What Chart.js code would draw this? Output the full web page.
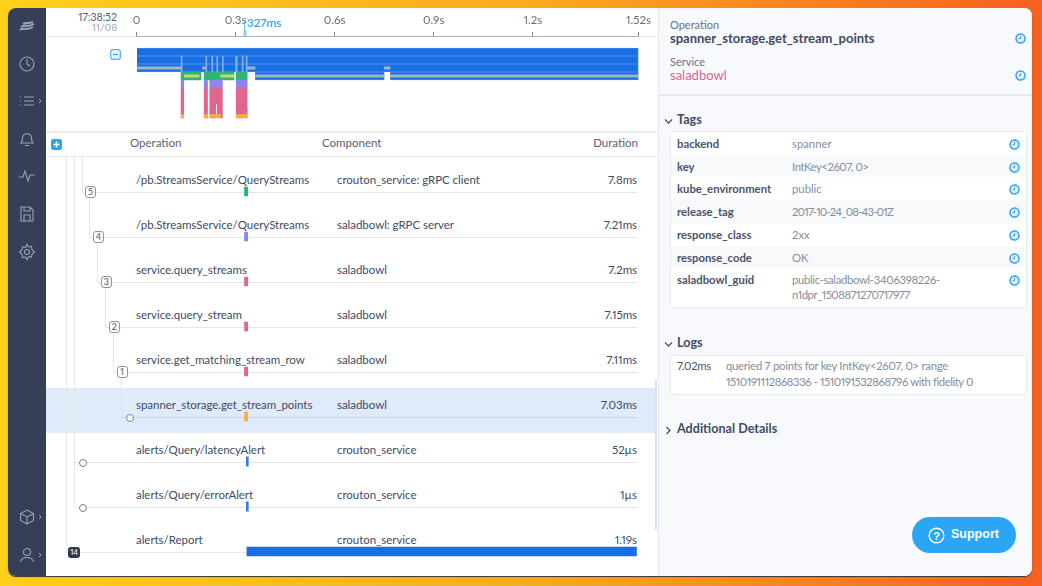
<!DOCTYPE html>
<html>
<head>
<meta charset="utf-8">
<script src="https://cdn.jsdelivr.net/npm/chart.js@4"></script>
<style>
* { box-sizing: border-box; }
html, body { margin: 0; width: 1042px; height: 586px; overflow: hidden; }
body { position: relative; font-family: Lato, sans-serif; color: #3f4a62; font-variant-numeric: proportional-nums;
       background: linear-gradient(90deg, #ffd01a 0%, #fbab1f 50%, #f7601f 100%); }
#card { position: absolute; left: 8px; top: 8px; width: 1024px; height: 568px; background: #fff;
        border-radius: 8px; overflow: hidden; box-shadow: 0 1px 1px #333; }
#side { position: absolute; left: 0; top: 0; width: 38px; height: 568px; background: #363f58; }
#side svg { position: absolute; fill: none; stroke: #9aa2b6; stroke-width: 1.1; }
.abs { position: absolute; white-space: nowrap; }
.hline { position: absolute; left: 46px; width: 611px; background: #e9ebef; }
canvas { position: absolute; display: block; }
#rows div { position: absolute; }
.rowtext { font-size: 11.5px; letter-spacing: -.04px; color: #414b63; line-height: 14px; white-space: nowrap; }
.badge { width: 11px; height: 12px; border: 1px solid #8d93a0; border-radius: 3px; background: #fff;
         font-size: 9px; line-height: 10px; text-align: center; color: #4a5266; }
.dot { width: 8px; height: 8px; border: 1px solid #77808f; border-radius: 50%; background: #fff; }
#right { position: absolute; left: 658px; top: 8px; width: 374px; height: 568px; background: #f8f9fc;
         border-left: 1px solid #e6e8ed; border-radius: 0 8px 8px 0; }
.lbl { font-size: 11px; color: #6a7284; }
.big { font-size: 13px; font-weight: 700; color: #3f4a62; }
.sec { font-size: 12.6px; font-weight: 700; color: #414b63; }
.clock { position: absolute; }
#tags { position: absolute; left: 12px; top: 124px; width: 355px; height: 175px; background: #fff;
        border-radius: 3px; box-shadow: 0 0 2px #c5c9d2; }
.tagrow { position: absolute; left: 0; width: 355px; font-size: 11.3px; }
.tagrow b { position: absolute; left: 6px; top: 5px; font-weight: 700; color: #4a5368; }
.tagrow span { position: absolute; left: 121px; top: 4px; color: #868d9c; line-height: 15px; white-space: nowrap; }
#logs { position: absolute; left: 12px; top: 348px; width: 355px; height: 38px; background: #fff;
        border-radius: 3px; box-shadow: 0 0 2px #c5c9d2; font-size: 11.3px; line-height: 15.5px; }
#support { position: absolute; left: 253px; top: 509px; width: 104px; height: 36px; border-radius: 18px;
           background: #2ba6f6; color: #fff; font-family: "Liberation Sans", sans-serif; font-weight: 700; font-size: 12.5px; }
</style>
</head>
<body>
<div id="card"></div>
<div id="side" style="left:8px;top:8px;border-radius:8px 0 0 8px"></div>

<div class="abs" style="right:925px;top:11px;font-size:10.5px;color:#555d6e">17:38:52</div>
<div class="abs" style="right:925px;top:21px;font-size:10px;color:#a2a7b2">11/08</div>
<div class="hline" style="top:36px;height:1px"></div>
<div class="hline" style="top:131px;height:2px"></div>
<div class="hline" style="top:156px;height:1px"></div>

<svg class="abs" style="left:110px;top:49px" width="11" height="11"><rect x=".7" y=".7" width="9.6" height="9.6" rx="2" fill="#e8f5fe" stroke="#4db3ef" stroke-width="1.2"/><path d="M3 5.5h5" stroke="#3aa6ea" stroke-width="1.2"/></svg>
<svg class="abs" style="left:51px;top:139px" width="11" height="11"><rect width="11" height="11" rx="2" fill="#2ba6f6"/><path d="M2.5 5.5h6M5.5 2.5v6" stroke="#fff" stroke-width="1.5"/></svg>

<div class="abs" style="left:130px;top:136px;font-size:11.5px;color:#596277">Operation</div>
<div class="abs" style="left:322px;top:136px;font-size:11.5px;color:#596277">Component</div>
<div class="abs" style="right:404px;top:136px;font-size:11.5px;color:#596277">Duration</div>

<div class="abs" style="left:46px;top:388px;width:611px;height:45px;background:#dfeafa"></div>
<div class="abs" style="left:655px;top:380px;width:2px;height:150px;background:#d5e3f5"></div>
<div id="rows"></div>

<canvas id="timeline" width="611" height="124" style="left:46px;top:8px"></canvas>
<canvas id="spans" width="611" height="405" style="left:46px;top:169px"></canvas>

<div id="right">
  <div class="abs lbl" style="left:11px;top:10px">Operation</div>
  <div class="abs big" style="left:11px;top:22px">spanner_storage.get_stream_points</div>
  <div class="abs lbl" style="left:11px;top:47px">Service</div>
  <div class="abs big" style="left:11px;top:59px;color:#e0668f;font-weight:400">saladbowl</div>
  <div class="abs" style="left:0;top:86px;width:373px;height:2px;background:#e8e9ee"></div>
  <div class="abs sec" style="left:18px;top:104px">Tags</div>
  <div id="tags"></div>
  <div class="abs sec" style="left:18px;top:327px">Logs</div>
  <div id="logs">
    <div class="abs" style="left:6px;top:2px;color:#4a5368;letter-spacing:-.3px">7.02ms</div>
    <div class="abs" style="left:55px;top:2px;color:#868d9c;letter-spacing:-.25px">queried 7 points for key IntKey&lt;2607, 0&gt; range<br><span style="letter-spacing:-.42px">1510191112868336 - 1510191532868796 with fidelity 0</span></div>
  </div>
  <div class="abs sec" style="left:18px;top:413px">Additional Details</div>
  <svg class="abs" style="left:5px;top:110px" width="9" height="7"><path d="M1 1.5l3.5 3.5 3.5-3.5" fill="none" stroke="#4a5368" stroke-width="1.3"/></svg>
  <svg class="abs" style="left:5px;top:333px" width="9" height="7"><path d="M1 1.500l3.500 3.500 3.500-3.500" fill="none" stroke="#4a5368" stroke-width="1.3"/></svg>
  <svg class="abs" style="left:6px;top:418px" width="7" height="10"><path d="M1.5 1l3.5 3.5-3.5 3.5" fill="none" stroke="#4a5368" stroke-width="1.3"/></svg>
  <div id="support">
    <svg class="abs" style="left:16px;top:10px" width="17" height="17"><circle cx="8.5" cy="8.5" r="7.3" fill="none" stroke="#fff" stroke-width="1.4"/><text x="8.5" y="12.5" font-size="11" font-weight="700" text-anchor="middle" fill="#fff">?</text></svg>
    <div class="abs" style="left:39px;top:10px">Support</div>
  </div>
</div>

<script>
// tiempos en segundos
const axisTicks = [0, 0.3, 0.6, 0.9, 1.2, 1.52];
const cursorTime = 0.327;
const cursorLabel = '327ms';

// minimapa: [carril, inicio, fin]
const miniBlue = [[0, 0, 1.52], [1, 0, 1.52], [2, 0, 1.52], [3, 0.359, 0.75], [3, 0.768, 1.52]];
const miniGrey = [[2, 0, 0.135], [2, 0.2, 0.21], [2, 0.335, 0.359], [2, 0.75, 0.768], [3, 0.359, 0.75], [3, 0.768, 1.52]];
const miniHair = [[1, 0.135, 0.138], [2, 0.135, 0.138], [1, 0.21, 0.213], [2, 0.21, 0.213], [1, 0.228, 0.231], [2, 0.228, 0.231],
                  [1, 0.243, 0.246], [2, 0.243, 0.246], [1, 0.26, 0.263], [2, 0.26, 0.263], [1, 0.3, 0.305], [2, 0.3, 0.305],
                  [1, 0.32, 0.323], [2, 0.32, 0.323], [1, 0.332, 0.335], [2, 0.332, 0.335]];
const miniGreen = [[3, 0.135, 0.195], [3, 0.205, 0.295], [3, 0.302, 0.335]];
const miniLime = [[3, 0.145, 0.19], [3, 0.255, 0.295]];
const miniPurple = [[4, 0.135, 0.143], [4, 0.205, 0.215], [4, 0.222, 0.26], [4, 0.302, 0.335]];
const miniPink = [[5, 0.135, 0.143], [6, 0.135, 0.143], [7, 0.135, 0.143], [7.75, 0.135, 0.143],
                  [5, 0.205, 0.215], [6, 0.205, 0.215], [7, 0.205, 0.215], [7.75, 0.205, 0.215],
                  [5, 0.222, 0.26], [6, 0.222, 0.26], [7, 0.222, 0.24], [7, 0.245, 0.26], [7.75, 0.222, 0.24], [7.75, 0.245, 0.26],
                  [5, 0.302, 0.335], [6, 0.302, 0.335], [7, 0.302, 0.335], [7.75, 0.302, 0.335]];
const miniYellow = [[8, 0.135, 0.143], [8, 0.205, 0.215], [8, 0.222, 0.255], [8, 0.302, 0.335]];

// tabla de spans
const operations = ['/pb.StreamsService/QueryStreams', '/pb.StreamsService/QueryStreams', 'service.query_streams',
                    'service.query_stream', 'service.get_matching_stream_row', 'spanner_storage.get_stream_points',
                    'alerts/Query/latencyAlert', 'alerts/Query/errorAlert', 'alerts/Report'];
const components = ['crouton_service: gRPC client', 'saladbowl: gRPC server', 'saladbowl', 'saladbowl', 'saladbowl', 'saladbowl',
                    'crouton_service', 'crouton_service', 'crouton_service'];
const durationLabels = ['7.8ms', '7.21ms', '7.2ms', '7.15ms', '7.11ms', '7.03ms', '52µs', '1µs', '1.19s'];
const spanStarts = [0.326, 0.326, 0.326, 0.326, 0.326, 0.326, 0.3325, 0.3325, 0.333];
const spanSeconds = [0.0078, 0.00721, 0.0072, 0.00715, 0.00711, 0.00703, 0.000052, 0.000001, 1.182];
const spanColors = ['#2bb673', '#8d84ee', '#e0668f', '#e0668f', '#e0668f', '#fdb13e', '#3a80d8', '#3a80d8', '#1a6ee4'];
const spanEdges = ['#2bb673', '#8d84ee', '#e0668f', '#e0668f', '#e0668f', '#f08aa8', '#3a80d8', '#3a80d8', '#1a6ee4'];
const treeDepth = [0, 1, 2, 3, 4, 5, -1, -1, -2];
const badges = ['5', '4', '3', '2', '1', '', '', '', '14'];

const tagKeys = ['backend', 'key', 'kube_environment', 'release_tag', 'response_class', 'response_code', 'saladbowl_guid'];
const tagValues = ['spanner',
                   '<i style="font-style:normal;letter-spacing:-.45px">IntKey&lt;2607, 0&gt;</i>',
                   'public',
                   '<i style="font-style:normal;letter-spacing:-.8px">2017-10-24_08-43-01Z</i>',
                   '2xx', 'OK',
                   '<i style="font-style:normal;letter-spacing:-.33px">public-saladbowl-3406398226-</i><br><i style="font-style:normal;letter-spacing:-.5px">n1dpr_1508871270717977</i>'];

const AXIS_LEFT = 90.5, AXIS_RIGHT = 18.5;

function spansDe(lista) {
    return lista.map(s => ({ x: [s[1], s[2]], y: s[0] }));
}

function miniSet(lista, color, grosor, extra) {
    return Object.assign({ data: spansDe(lista), backgroundColor: color, barThickness: grosor, grouped: false }, extra || {});
}

// 1. Minimapa con eje superior
const cursorPlugin = {
    id: 'cursor',
    afterDraw(chart) {
        const x = chart.scales.x.getPixelForValue(cursorTime);
        const ctx = chart.ctx;
        ctx.save();
        ctx.fillStyle = '#8ecbf7';
        ctx.fillRect(x - 1, 22, 3, 6);
        ctx.fillStyle = '#6cbcf2';
        ctx.fillRect(x - 0.5, 12, 1, 10);
        ctx.fillStyle = '#39a5ee';
        ctx.font = '600 12px Lato';
        ctx.letterSpacing = '-0.2px';
        ctx.fillText(cursorLabel, x + 2.5, 18.5);
        ctx.restore();
    }
};

new Chart(document.getElementById('timeline'), {
    type: 'bar',
    data: {
        datasets: [
            miniSet(miniYellow, '#fdb13e', 3, { order: 1 }),
            miniSet(miniLime, '#c9d86a', 2.5, { order: 2 }),
            miniSet(miniGrey, '#9db8bf', 2.5, { order: 3 }),
            miniSet(miniHair, '#7fadf0', 8, { order: 4 }),
            miniSet(miniPink, '#e0668f', 8, { order: 5 }),
            miniSet(miniPurple, '#8d84ee', 8, { order: 6 }),
            miniSet(miniGreen, '#2bb673', 8, { order: 7 }),
            miniSet(miniBlue, '#1a6ee4', 8, { order: 8, borderColor: '#3f88ec', borderWidth: 1 })
        ]
    },
    plugins: [cursorPlugin],
    options: {
        indexAxis: 'y',
        responsive: false,
        animation: false,
        layout: { padding: { left: AXIS_LEFT, right: AXIS_RIGHT, top: 0, bottom: 0 } },
        plugins: { legend: { display: false }, tooltip: { enabled: false } },
        scales: {
            x: {
                type: 'linear',
                position: 'top',
                min: 0,
                max: 1.52,
                afterFit(scale) { scale.height = 28; },
                afterBuildTicks(scale) { scale.ticks = axisTicks.map(v => ({ value: v })); },
                border: { color: '#a9aeb9' },
                grid: { drawOnChartArea: false, tickLength: 4, tickColor: '#7f8590' },
                ticks: {
                    autoSkip: false,
                    maxRotation: 0,
                    padding: 5,
                    color: '#666d7b',
                    font: { family: 'Lato', size: 11.5 },
                    callback: v => (v === 0 ? '0' : v + 's')
                }
            },
            y: { type: 'linear', display: false, offset: false, reverse: true, min: -2, max: 10 }
        }
    }
});

// 2. Barras de cada span: los de microsegundos van más finos
const esMicro = i => spanSeconds[i] < 0.001;
new Chart(document.getElementById('spans'), {
    type: 'bar',
    data: {
        labels: operations,
        datasets: [{
            data: spanStarts.map((s, i) => (esMicro(i) ? null : [s, s + spanSeconds[i]])),
            backgroundColor: spanColors,
            borderColor: spanEdges,
            borderWidth: { top: 1, bottom: 1, left: 0, right: 0 },
            barThickness: 9.5,
            minBarLength: 4,
            grouped: false,
            borderSkipped: false
        }, {
            data: spanStarts.map((s, i) => (esMicro(i) ? [s, s + spanSeconds[i]] : null)),
            backgroundColor: spanColors,
            barThickness: 9.5,
            minBarLength: 2,
            grouped: false
        }]
    },
    options: {
        indexAxis: 'y',
        responsive: false,
        animation: false,
        layout: { padding: { left: AXIS_LEFT, right: AXIS_RIGHT } },
        plugins: { legend: { display: false }, tooltip: { enabled: false } },
        scales: {
            x: { type: 'linear', display: false, min: 0, max: 1.52 },
            y: { type: 'category', display: false }
        }
    }
});

// 3. Filas y árbol
const rowsEl = document.getElementById('rows');
function caja(css, cls, txt) {
    const d = document.createElement('div');
    d.style.cssText = css;
    if (cls) d.className = cls;
    if (txt) d.textContent = txt;
    rowsEl.appendChild(d);
}
const ROW_Y = i => 192 + 45 * i;
const NODE_X = d => 90 + 7.9 * d;
const TREE = '#e4e6ea';

operations.forEach((op, i) => {
    const y = ROW_Y(i);
    const cx = NODE_X(treeDepth[i]);
    // línea vertical desde el padre
    let top = 157;
    if (i > 0 && i < 6) top = ROW_Y(i - 1);
    if (i === 7) top = ROW_Y(6);
    caja(`left:${cx - 8.5}px;top:${top}px;width:1px;height:${y - top}px;background:${TREE}`);
    caja(`left:${cx - 8.5}px;top:${y}px;width:${637 - cx + 8.5}px;height:1px;background:${i === 5 ? '#cfd3da' : TREE}`);
});
caja(`left:${NODE_X(-1) - 8.5}px;top:157px;width:1px;height:${ROW_Y(6) - 157}px;background:${TREE}`);
operations.forEach((op, i) => {
    const y = ROW_Y(i);
    const cx = NODE_X(treeDepth[i]);
    if (badges[i] === '14') {
        caja(`left:${cx - 6}px;top:${y - 5}px;width:12px;height:11px;border-radius:3px;background:#2f3850;color:#fff;font-size:8px;line-height:11px;text-align:center`, '', badges[i]);
    } else if (badges[i]) {
        caja(`left:${cx - 5}px;top:${y - 6}px`, 'badge', badges[i]);
    } else {
        caja(`left:${cx - 3.5}px;top:${y - 3.5}px`, 'dot');
    }
    caja(`left:136px;top:${y - 19}px`, 'rowtext', op);
    caja(`left:337px;top:${y - 19}px`, 'rowtext', components[i]);
    caja(`right:405px;top:${y - 19}px`, 'rowtext', durationLabels[i]);
});

// 4. Panel derecho
function reloj(padre, x, y) {
    const ns = 'http://www.w3.org/2000/svg';
    const s = document.createElementNS(ns, 'svg');
    s.setAttribute('class', 'clock');
    s.setAttribute('width', 11);
    s.setAttribute('height', 11);
    s.style.left = x + 'px';
    s.style.top = y + 'px';
    s.innerHTML = '<circle cx="5.5" cy="5.5" r="4.5" fill="#e4f3fd" stroke="#35a4ea" stroke-width="1.5"/><path d="M5.5 3v2.7H3.4" fill="none" stroke="#35a4ea" stroke-width="1"/>';
    padre.appendChild(s);
}
const rightEl = document.getElementById('right');
reloj(rightEl, 356, 25);
reloj(rightEl, 356, 62);

const tagsEl = document.getElementById('tags');
tagKeys.forEach((k, i) => {
    const r = document.createElement('div');
    r.className = 'tagrow';
    r.style.top = (i * 22.7) + 'px';
    r.style.height = (i === 6 ? 39 : 22.7) + 'px';
    r.style.background = i % 2 ? '#f8f9fb' : '#fff';
    const b = document.createElement('b');
    b.textContent = k;
    const v = document.createElement('span');
    v.innerHTML = tagValues[i];
    r.appendChild(b);
    r.appendChild(v);
    tagsEl.appendChild(r);
    reloj(r, 338, 7);
});

// 5. Barra lateral
const sideEl = document.getElementById('side');
const sideIcons = [
    [11, 11, '<path d="M1 11c4-3 6 1 13-3M2 8c4-3 6 1 13-3M4 5c3-2 5 0 10-2" stroke-width="2"/>'],
    [10, 47, '<circle cx="9" cy="9" r="7"/><path d="M9 4v5l3 2"/>'],
    [10, 84, '<path d="M6 5h10M6 9h10M6 13h10M2 5h1M2 9h1M2 13h1"/>'],
    [10, 122, '<path d="M3 13c2-2 1-5 2-7 1-3 7-3 8 0 1 2 0 5 2 7zM7 15.5h4"/>'],
    [10, 159, '<path d="M1 10h4l2-6 3 10 2-6h5"/>'],
    [10, 197, '<path d="M3 2h9l3 3v11H3zM6 2v4h6V2M6 16v-6h6v6"/>'],
    [10, 235, '<circle cx="9" cy="9" r="2.5"/><path d="M9 1.5l1.5 2.5 3-.5.5 3 2.5 2.5-2.5 2 -.5 3-3-.5L9 16.500l-1.500-2.500-3 .5-.5-3L1.500 9 4 7l.5-3 3 .5z"/>'],
    [10, 500, '<path d="M9 2l6.500 3.500v7L9 16l-6.500-3.500v-7zM2.500 5.500L9 9l6.500-3.500M9 9v7"/>'],
    [10, 538, '<circle cx="9" cy="6" r="3.500"/><path d="M2.500 16c1-6 12-6 13 0"/>'],
    [28, 84, '<path d="M3 7l2 2-2 2" stroke-width="1"/>'],
    [28, 500, '<path d="M3 7l2 2-2 2" stroke-width="1"/>'],
    [28, 538, '<path d="M3 7l2 2-2 2" stroke-width="1"/>']
];
sideIcons.forEach(ic => {
    const ns = 'http://www.w3.org/2000/svg';
    const s = document.createElementNS(ns, 'svg');
    s.setAttribute('width', 18);
    s.setAttribute('height', 18);
    s.style.left = ic[0] + 'px';
    s.style.top = ic[1] + 'px';
    s.innerHTML = ic[2];
    sideEl.appendChild(s);
});
</script>
</body>
</html>
